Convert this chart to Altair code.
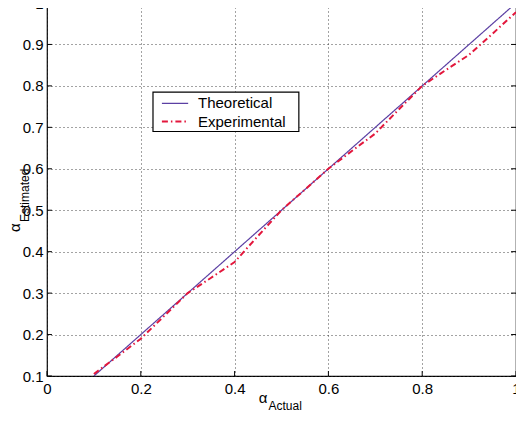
import altair as alt
import pandas as pd

# ---- data ----
exp_x = [0.1, 0.15, 0.2, 0.25, 0.3, 0.35, 0.4, 0.45, 0.5, 0.55, 0.6, 0.65, 0.7, 0.75, 0.8, 0.85, 0.9, 0.95, 1.0]
exp_y = [0.105, 0.147, 0.19, 0.245, 0.3, 0.337, 0.375, 0.438, 0.5, 0.55, 0.6, 0.643, 0.685, 0.743, 0.8, 0.838, 0.875, 0.926, 0.978]
theo_x = [0.1, 1.0]
theo_y = [0.1, 1.0]
series_names = ["Theoretical", "Experimental"]
series_colors = ["#5b3fa3", "#e3173c"]
series_dash = [[1, 0], [6, 3, 1.5, 3]]
series_width = [1.2, 2.0]
x_ticks = [0, 0.2, 0.4, 0.6, 0.8, 1.0]
y_ticks = [0.1, 0.2, 0.3, 0.4, 0.5, 0.6, 0.7, 0.8, 0.9, 1.0]

# legend box (in data units of the axes, as placed in the reference)
legend_box_x = [0.226, 0.537]
legend_box_y = [0.785, 0.690]
legend_line_x = [0.245, 0.301]
legend_row_y = [0.758, 0.714]
legend_text_x = 0.322

FONT = "Liberation Sans"

lines = pd.DataFrame({
    "x": theo_x + exp_x,
    "y": theo_y + exp_y,
    "series": [series_names[0]] * len(theo_x) + [series_names[1]] * len(exp_x),
    "order": list(range(len(theo_x))) + list(range(len(exp_x))),
})

# inward tick marks (MATLAB style) built from tick arrays
tx, tl = 0.0105, 0.012
rows = []
for t in x_ticks:
    rows.append({"x": t, "x2": t, "y": 0.1, "y2": 0.1 + tl})
    rows.append({"x": t, "x2": t, "y": 1.0, "y2": 1.0 - tl})
for t in y_ticks:
    rows.append({"x": 0.0, "x2": tx, "y": t, "y2": t})
    rows.append({"x": 1.0, "x2": 1.0 - tx, "y": t, "y2": t})
ticks = pd.DataFrame(rows)

xs = alt.Scale(domain=[0, 1], nice=False, zero=False)
ys = alt.Scale(domain=[0.1, 1], nice=False, zero=False)

x_axis = alt.Axis(values=x_ticks, format="~g", title=None, grid=True, gridDash=[1, 3],
                  gridColor="#333333", gridOpacity=0.9, domain=False, ticks=False,
                  labelFont=FONT, labelFontSize=15, labelColor="black", labelPadding=5,
                  labelFlush=False, labelOverlap=False)
y_axis = alt.Axis(values=y_ticks, format="~g", title=None, grid=True, gridDash=[1, 3],
                  gridColor="#333333", gridOpacity=0.9, domain=False, ticks=False,
                  labelFont=FONT, labelFontSize=15, labelColor="black", labelPadding=4,
                  labelFlush=False, labelOverlap=False)

base_grid = alt.Chart(ticks).mark_rule(color="black", strokeWidth=1).encode(
    x=alt.X("x:Q", scale=xs, axis=x_axis),
    x2="x2:Q",
    y=alt.Y("y:Q", scale=ys, axis=y_axis),
    y2="y2:Q",
)

line_chart = alt.Chart(lines).mark_line().encode(
    x=alt.X("x:Q", scale=xs),
    y=alt.Y("y:Q", scale=ys),
    order="order:Q",
    color=alt.Color("series:N", scale=alt.Scale(domain=series_names, range=series_colors), legend=None),
    strokeDash=alt.StrokeDash("series:N", scale=alt.Scale(domain=series_names, range=series_dash), legend=None),
    strokeWidth=alt.StrokeWidth("series:N", scale=alt.Scale(domain=series_names, range=series_width), legend=None),
)

# ---- legend drawn in the plot ----
box_df = pd.DataFrame({"x": [legend_box_x[0]], "x2": [legend_box_x[1]],
                       "y": [legend_box_y[0]], "y2": [legend_box_y[1]]})
legend_box = alt.Chart(box_df).mark_rect(fill="white", stroke="black", strokeWidth=1.2).encode(
    x=alt.X("x:Q", scale=xs), x2="x2:Q", y=alt.Y("y:Q", scale=ys), y2="y2:Q")

leg_df = pd.DataFrame({
    "x": [legend_line_x[0]] * 2, "x2": [legend_line_x[1]] * 2,
    "y": legend_row_y, "series": series_names, "tx": [legend_text_x] * 2,
})
legend_lines = alt.Chart(leg_df).mark_rule().encode(
    x=alt.X("x:Q", scale=xs), x2="x2:Q", y=alt.Y("y:Q", scale=ys),
    color=alt.Color("series:N", scale=alt.Scale(domain=series_names, range=series_colors), legend=None),
    strokeDash=alt.StrokeDash("series:N", scale=alt.Scale(domain=series_names, range=series_dash), legend=None),
    strokeWidth=alt.StrokeWidth("series:N", scale=alt.Scale(domain=series_names, range=series_width), legend=None),
)
legend_text = alt.Chart(leg_df).mark_text(align="left", baseline="middle", fontSize=15, font=FONT,
                                          color="black").encode(
    x=alt.X("tx:Q", scale=xs), y=alt.Y("y:Q", scale=ys), text="series:N")

# ---- axis titles with subscripts ----
xt = pd.DataFrame({"x": [0.5], "y": [0.1]})
yt = pd.DataFrame({"x": [0.0], "y": [0.55]})

x_alpha = alt.Chart(xt).mark_text(text="α", align="right", dx=-14, dy=22, fontSize=15,
                                   font=FONT, color="black").encode(
    x=alt.X("x:Q", scale=xs), y=alt.Y("y:Q", scale=ys))
x_sub = alt.Chart(xt).mark_text(text="Actual", align="left", dx=-13, dy=30, fontSize=12,
                                 font=FONT, color="black").encode(
    x=alt.X("x:Q", scale=xs), y=alt.Y("y:Q", scale=ys))
y_alpha = alt.Chart(yt).mark_text(text="α", align="left", angle=270, dx=-42.5, dy=-32,
                                   fontSize=15, font=FONT, color="black").encode(
    x=alt.X("x:Q", scale=xs), y=alt.Y("y:Q", scale=ys))
y_sub = alt.Chart(yt).mark_text(text="Estimated", align="left", angle=270, dx=-32.5, dy=-22,
                                 fontSize=12, font=FONT, color="black").encode(
    x=alt.X("x:Q", scale=xs), y=alt.Y("y:Q", scale=ys))

chart = alt.layer(base_grid, line_chart, legend_box, legend_lines, legend_text,
                  x_alpha, x_sub, y_alpha, y_sub).properties(
    width=469, height=373,
    autosize=alt.AutoSizeParams(type="none"),
    padding={"left": 39, "top": -5, "right": 0, "bottom": 35},
    background="white",
).configure_view(stroke="black", strokeWidth=1.2)

chart.save("out.html", embed_options={"renderer": "svg", "actions": False})
